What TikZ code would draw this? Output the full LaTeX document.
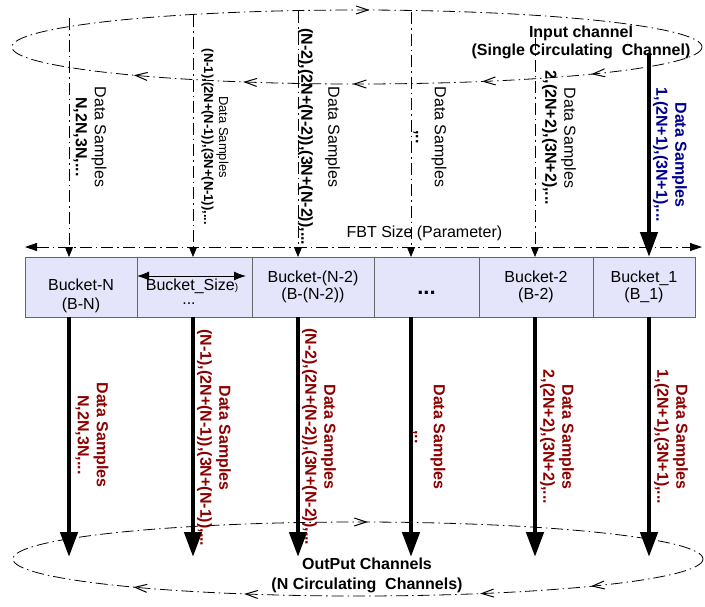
\documentclass[tikz,border=0pt]{standalone}
\usepackage{fontspec}
\setmainfont{Liberation Sans}
\usetikzlibrary{arrows.meta}
\usetikzlibrary{positioning}
\usetikzlibrary{decorations.markings}

\definecolor{bucketfill}{RGB}{228,228,250}
\definecolor{outred}{RGB}{140,0,0}
\definecolor{inblue}{RGB}{0,0,140}

\begin{document}
\begin{tikzpicture}[x=1pt,y=-1pt,
    every node/.style={font=\fontsize{16}{19}\selectfont,inner sep=0pt},
    bucket node/.style={rectangle,draw=black!60,fill=bucketfill,minimum height=60pt,outer sep=0pt,align=center,font=\fontsize{16}{17}\selectfont},
    dash dot/.style={line width=0.8pt,dash pattern=on 12pt off 4pt on 1.5pt off 4pt},
    barb/.tip={Straight Barb[length=12pt,width=8pt,line width=1pt]},
    feed line/.style={dash dot,-{Triangle[length=10pt,width=8pt]}},
    out arrow/.style={line width=4.5pt,-{Triangle[length=25pt,width=17pt]}},
    size arrow/.style={line width=1pt,{Latex[length=12pt,width=9pt]}-{Latex[length=12pt,width=9pt]}},
    sample label/.style={rotate=-90,align=center},
    out label/.style={rotate=-90,align=center,text=outred,font=\fontsize{16}{19}\selectfont\bfseries}]

    \useasboundingbox (0,0) rectangle (705,606);

    % input channel
    \draw[dash dot,postaction={decorate},decoration={markings,
        mark=at position 0.083 with {\arrow{barb}},
        mark=at position 0.161 with {\arrow{barb}},
        mark=at position 0.253 with {\arrow{barb}},
        mark=at position 0.331 with {\arrow{barb}},
        mark=at position 0.409 with {\arrow{barb}},
        mark=at position 0.759 with {\arrow{barb}}}]
        (357,47) ellipse [x radius=345, y radius=37];
    \node[align=center,font=\fontsize{16}{18}\selectfont\bfseries] (input) at (581,42) {Input channel\\(Single Circulating~~Channel)};

    % buckets
    \node[bucket node,minimum width=112pt,anchor=north west] (bN) at (25,257) {};
    \node[bucket node,minimum width=115pt,right=0pt of bN] (bS) {};
    \node[bucket node,minimum width=122pt,right=0pt of bS] (bN2) {Bucket-(N-2)\\(B-(N-2))};
    \node[bucket node,minimum width=105pt,right=0pt of bN2,text height=14pt,text depth=0pt,font=\fontsize{22}{22}\selectfont\bfseries] (bDots) {...};
    \node[bucket node,minimum width=114pt,right=0pt of bDots] (b2) {Bucket-2\\(B-2)};
    \node[bucket node,minimum width=102pt,right=0pt of b2] (b1) {Bucket\_1\\(B\_1)};
    \node[align=center] (bNtext) at ([yshift=-9pt]bN.center) {Bucket-N\\(B-N)};

    \coordinate (size l) at (137,276);
    \coordinate (size r) at (246,276);
    \draw[size arrow] (size l) -- (size r);
    \node (size text) at (192,286) {Bucket\_Size{\fontsize{10}{10}\selectfont)}};
    \node (size dots) at (189,304) {...};

    % FBT size
    \coordinate (fbt l) at (25,247);
    \coordinate (fbt r) at (702,247);
    \draw[dash dot,{Triangle[length=12pt,width=8pt]}-{Triangle[length=12pt,width=8pt]}] (fbt l) -- (fbt r)
        node[pos=0.59,above=6pt] (fbt) {FBT Size (Parameter)};

    % samples into the buckets
    \coordinate (src1) at (69,18);
    \coordinate (src2) at (193,15);
    \coordinate (src3) at (298,11);
    \coordinate (src4) at (411,12);
    \coordinate (src5) at (535,38);
    \coordinate (src6) at (649,53);
    \draw[feed line] (src1) -- (src1 |- bN.north);
    \draw[feed line] (src2) -- (src2 |- bS.north);
    \draw[feed line] (src3) -- (src3 |- bN2.north);
    \draw[feed line] (src4) -- (src4 |- bDots.north);
    \draw[feed line] (src5) -- (src5 |- b2.north);
    \draw[out arrow] (src6) -- (src6 |- b1.north);

    \node[sample label] (din1) at (90,137) {Data Samples\\\textbf{N,2N,3N,...}};
    \node[sample label,font=\fontsize{13}{15}\selectfont] (din2) at (215,137) {Data Samples\\\textbf{(N-1),(2N+(N-1)),(3N+(N-1)),...}};
    \node[sample label] (din3) at (319,137) {Data Samples\\[8pt]\textbf{(N-2),(2N+(N-2)),(3N+(N-2)),...}};
    \node[sample label] (din4) at (430,137) {Data Samples\\\textbf{,..}};
    \node[sample label] (din5) at (559,138) {Data Samples\\\textbf{2,(2N+2),(3N+2),...}};
    \node[sample label,text=inblue,font=\fontsize{16}{19}\selectfont\bfseries] (din6) at (670,155) {Data Samples\\1,(2N+1),(3N+1),...};

    % output channels
    \coordinate (sink1) at (69,557);
    \coordinate (sink2) at (193,557);
    \coordinate (sink3) at (298,557);
    \coordinate (sink4) at (411,557);
    \coordinate (sink5) at (535,557);
    \coordinate (sink6) at (649,557);
    \draw[out arrow] (sink1 |- bN.south) -- (sink1);
    \draw[out arrow] (sink2 |- bS.south) -- (sink2);
    \draw[out arrow] (sink3 |- bN2.south) -- (sink3);
    \draw[out arrow] (sink4 |- bDots.south) -- (sink4);
    \draw[out arrow] (sink5 |- b2.south) -- (sink5);
    \draw[out arrow] (sink6 |- b1.south) -- (sink6);

    \node[out label] (dout1) at (92,435) {Data Samples\\N,2N,3N,...};
    \node[out label] (dout2) at (214,438) {Data Samples\\(N-1),(2N+(N-1)),(3N+(N-1)),...};
    \node[out label] (dout3) at (319,437) {Data Samples\\(N-2),(2N+(N-2)),(3N+(N-2)),...};
    \node[out label] (dout4) at (429,437) {Data Samples\\,..};
    \node[out label] (dout5) at (557,437) {Data Samples\\2,(2N+2),(3N+2),...};
    \node[out label] (dout6) at (671,437) {Data Samples\\1,(2N+1),(3N+1),...};

    \draw[dash dot,postaction={decorate},decoration={markings,
        mark=at position 0.084 with {\arrow{barb}},
        mark=at position 0.163 with {\arrow{barb}},
        mark=at position 0.331 with {\arrow{barb}},
        mark=at position 0.410 with {\arrow{barb}},
        mark=at position 0.757 with {\arrow{barb}}}]
        (358,559) ellipse [x radius=345, y radius=37];
    \node[align=center,font=\fontsize{16}{20}\selectfont\bfseries] (output) at (367,575) {OutPut Channels\\(N Circulating~~Channels)};

\end{tikzpicture}
\end{document}
